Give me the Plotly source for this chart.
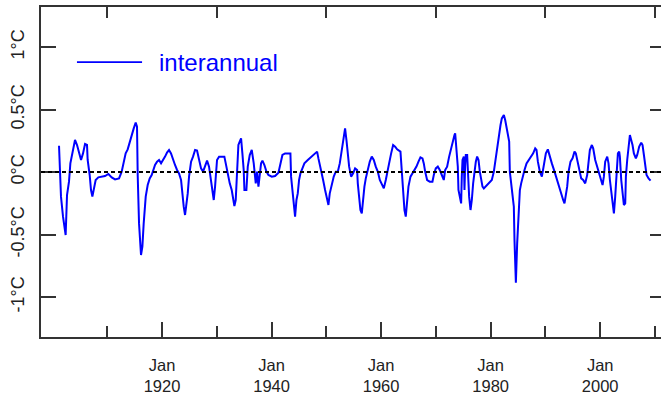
import plotly.graph_objects as go

# decimal years and interannual anomaly (deg C)
years = [1901.19, 1901.31, 1901.55, 1901.92, 1902.28, 1902.40, 1902.65, 1903.01, 1903.26, 1903.74,
         1904.11, 1904.48, 1904.84, 1905.21, 1905.57, 1905.94, 1906.30, 1906.42, 1906.79, 1907.03,
         1907.28, 1907.52, 1907.88, 1908.37, 1909.59, 1910.20, 1910.81, 1911.42, 1912.15, 1912.63,
         1913.00, 1913.36, 1913.73, 1914.09, 1914.46, 1914.83, 1915.19, 1915.43, 1915.56, 1915.80,
         1916.16, 1916.41, 1916.65, 1917.02, 1917.38, 1917.75, 1918.11, 1918.72,
         1919.09, 1919.45, 1919.82, 1920.18, 1920.55, 1920.91, 1921.28, 1921.64, 1922.01, 1922.37,
         1922.74, 1923.10, 1923.47, 1923.71, 1923.96, 1924.20, 1924.44, 1924.69, 1924.93, 1925.30,
         1925.66, 1926.03, 1926.39, 1926.76, 1927.12, 1927.49, 1927.85, 1928.22, 1928.58, 1928.95,
         1929.19, 1929.44, 1929.68, 1930.04, 1930.41, 1930.90, 1931.38, 1931.63, 1931.99, 1932.36,
         1932.72, 1932.97, 1933.21, 1933.45, 1933.70, 1933.94, 1934.18, 1934.43, 1934.67, 1934.91,
         1935.04, 1935.40, 1935.65, 1936.01, 1936.38, 1936.74, 1937.11,
         1937.35, 1937.60, 1937.84, 1938.08, 1938.33, 1938.69, 1939.06, 1939.42, 1940.03, 1940.64,
         1941.25, 1941.61, 1941.98, 1942.47, 1943.07, 1943.44, 1943.56, 1943.81, 1944.05, 1944.29,
         1944.54, 1944.78, 1945.02, 1945.27, 1945.63, 1945.99, 1946.61, 1947.34, 1948.31, 1948.55,
         1948.92, 1949.41, 1949.77, 1950.14, 1950.38, 1950.62, 1950.99, 1951.35, 1951.72, 1952.09,
         1952.45, 1952.82, 1953.18, 1953.42, 1953.67, 1953.91, 1954.16, 1954.52, 1954.89, 1955.25,
         1955.62, 1955.74, 1955.98, 1956.22, 1956.47, 1956.71, 1956.95, 1957.20, 1957.56, 1957.93,
         1958.29, 1958.66, 1959.02, 1959.39, 1959.76, 1960.12, 1960.49, 1960.85, 1961.09, 1961.46,
         1961.83, 1962.19, 1962.56, 1962.92, 1963.53, 1963.77, 1964.02, 1964.26, 1964.50, 1964.75,
         1964.99, 1965.36, 1965.72, 1966.09, 1966.45, 1966.82, 1967.18, 1967.55, 1967.79, 1968.04,
         1968.40, 1968.89, 1969.37, 1969.62, 1969.98, 1970.35, 1970.71, 1971.08, 1971.44, 1971.69,
         1972.05, 1972.42, 1972.78, 1973.15, 1973.39,
         1973.52, 1973.76, 1974.00, 1974.12, 1974.37, 1974.61, 1974.73, 1974.86, 1975.10, 1975.22,
         1975.34, 1975.46, 1975.71, 1975.83, 1976.07, 1976.32, 1976.56, 1976.80, 1977.05, 1977.29,
         1977.53, 1977.78, 1978.02, 1978.27, 1978.51, 1978.75, 1979.60, 1980.21, 1980.58, 1980.82,
         1981.07, 1981.31, 1981.55, 1981.80, 1982.04, 1982.41, 1982.65, 1982.89, 1983.14, 1983.38,
         1983.50, 1983.87, 1984.23, 1984.35, 1984.60, 1984.84, 1985.08, 1985.33, 1985.57, 1985.81,
         1986.18, 1986.55, 1986.91, 1987.40, 1987.76, 1988.13, 1988.37, 1988.62, 1988.98, 1989.35,
         1989.71, 1990.08, 1990.44, 1990.69, 1991.17, 1991.66, 1992.03,
         1992.51, 1992.88, 1993.24, 1993.48, 1993.73, 1993.97, 1994.22, 1994.58, 1994.95, 1995.31,
         1995.55, 1995.80, 1996.16, 1996.53, 1996.89, 1997.26, 1997.62, 1997.87, 1998.11, 1998.48,
         1998.72, 1999.09, 1999.45, 1999.82, 2000.18, 2000.43, 2000.67, 2000.91, 2001.28, 2001.52,
         2001.77, 2002.01, 2002.25, 2002.50, 2002.74, 2002.98, 2003.23, 2003.47, 2003.59, 2003.84,
         2004.08, 2004.32, 2004.57, 2004.69, 2004.93, 2005.17, 2005.42, 2005.66, 2005.90, 2006.15,
         2006.51, 2006.76, 2007.12, 2007.49, 2007.73, 2007.98, 2008.22, 2008.46, 2008.83, 2009.19]

anomaly = [0.210, 0.056, -0.197, -0.357, -0.477, -0.504, -0.184, -0.077, 0.069, 0.189,
           0.256, 0.216, 0.149, 0.096, 0.149, 0.224, 0.216, 0.096, -0.024, -0.144,
           -0.197, -0.144, -0.064, -0.043, -0.032, -0.016, -0.043, -0.059, -0.051, 0.003,
           0.083, 0.149, 0.181, 0.243, 0.309, 0.349, 0.395, 0.363, -0.032, -0.411,
           -0.664, -0.597, -0.411, -0.197, -0.104, -0.051, -0.024, 0.056,
           0.083, 0.096, 0.069, 0.091, 0.123, 0.155, 0.176, 0.149, 0.096, 0.056,
           0.016, -0.011, -0.064, -0.197, -0.277, -0.344, -0.277, -0.171, -0.037, 0.083,
           0.123, 0.176, 0.171, 0.083, 0.029, 0.003, 0.043, 0.091, 0.043, -0.077,
           -0.184, -0.224, -0.117, 0.096, 0.123, 0.123, 0.123, 0.069, -0.024, -0.091,
           -0.144, -0.197, -0.272, -0.224, -0.011, 0.216, 0.243, 0.269, 0.149, 0.016,
           -0.144, -0.144, 0.043, 0.136, 0.176, 0.069, -0.091,
           0.003, -0.117, -0.037, 0.069, 0.091, 0.056, 0.003, -0.024, -0.037, -0.032,
           -0.005, 0.069, 0.136, 0.149, 0.149, 0.149, -0.037, -0.144, -0.224, -0.357,
           -0.224, -0.171, -0.064, -0.011, 0.029, 0.069, 0.096, 0.128, 0.163, 0.109,
           0.043, -0.064, -0.144, -0.224, -0.264, -0.171, -0.104, -0.037, 0.003, 0.003,
           0.069, 0.176, 0.269, 0.349, 0.256, 0.149, 0.043, -0.037, -0.011, 0.029,
           0.016, -0.091, -0.224, -0.304, -0.331, -0.197, -0.117, -0.051, 0.016, 0.083,
           0.123, 0.096, 0.043, 0.003, -0.064, -0.104, -0.131, -0.064, 0.003, 0.069,
           0.149, 0.216, 0.203, 0.181, 0.163, -0.011, -0.224, -0.304, -0.357, -0.224,
           -0.117, -0.037, -0.011, 0.016, 0.043, 0.083, 0.117, 0.109, 0.069, 0.003,
           -0.064, -0.077, -0.077, -0.024, 0.029, 0.043, 0.016, -0.024, -0.064, 0.016,
           0.043, 0.123, 0.189, 0.269, 0.296,
           0.309, 0.203, 0.043, -0.144, -0.197, -0.251, -0.037, 0.096, 0.123, -0.144,
           0.043, 0.136, 0.136, -0.037, -0.197, -0.304, -0.224, -0.091, 0.003, 0.083,
           0.123, 0.096, 0.003, -0.064, -0.117, -0.131, -0.091, -0.064, 0.003, 0.083,
           0.176, 0.256, 0.323, 0.376, 0.429, 0.456, 0.416, 0.363, 0.309, 0.243,
           0.003, -0.117, -0.277, -0.544, -0.885, -0.571, -0.291, -0.144, -0.091, -0.037,
           0.016, 0.069, 0.096, 0.123, 0.149, 0.189, 0.176, 0.083, 0.003, -0.037,
           0.043, 0.149, 0.181, 0.136, 0.069, 0.003, -0.051,
           -0.131, -0.184, -0.224, -0.251, -0.197, -0.117, 0.003, 0.083, 0.109, 0.163,
           0.149, 0.096, 0.016, -0.051, -0.064, -0.091, -0.024, 0.083, 0.176, 0.216,
           0.189, 0.096, 0.043, -0.011, -0.064, -0.104, -0.037, 0.083, 0.123, 0.069,
           -0.064, -0.157, -0.251, -0.331, -0.197, -0.011, 0.149, 0.163, 0.123, -0.064,
           -0.144, -0.264, -0.251, -0.037, 0.096, 0.229, 0.296, 0.256, 0.216, 0.149,
           0.109, 0.136, 0.203, 0.235, 0.216, 0.136, 0.056, -0.024, -0.051, -0.069]

x_major = [1920, 1940, 1960, 1980, 2000]
x_major_text = ["Jan<br>1920", "Jan<br>1940", "Jan<br>1960", "Jan<br>1980", "Jan<br>2000"]
x_minor = [1910, 1930, 1950, 1970, 1990, 2010]
y_ticks = [-1, -0.5, 0, 0.5, 1]
y_text = ["-1°C", "-0.5°C", "0°C", "0.5°C", "1°C"]
series_name = "interannual"

X_RANGE = [1897.9, 2011.1]
Y_RANGE = [-1.32, 1.32]
FONT = "Liberation Sans, Arial, sans-serif"
AX = "#333333"
BLUE = "#0000ff"

fig = go.Figure()
fig.add_trace(go.Scatter(x=years, y=anomaly, mode="lines", name=series_name,
                         line=dict(color=BLUE, width=2), showlegend=False,
                         hoverinfo="x+y"))
# helper trace for the mirrored (top / right) tick axes
fig.add_trace(go.Scatter(x=[None], y=[None], xaxis="x2", yaxis="y2",
                         showlegend=False, hoverinfo="skip"))

fig.update_layout(
    width=661, height=397,
    margin=dict(l=41, r=0, t=7, b=60),
    paper_bgcolor="white", plot_bgcolor="white",
    font=dict(family=FONT, size=18, color="#222222"),
    xaxis=dict(range=X_RANGE, showgrid=False, zeroline=False, automargin=False,
               showline=True, linecolor=AX, linewidth=2,
               tickmode="array", tickvals=x_major, ticktext=x_major_text,
               tickfont=dict(size=16.5),
               ticks="inside", ticklen=15, tickwidth=2, tickcolor=AX,
               ticklabelstandoff=12,
               minor=dict(tickmode="array", tickvals=x_minor, ticks="inside",
                          ticklen=11, tickwidth=2, tickcolor=AX, showgrid=False)),
    xaxis2=dict(range=X_RANGE, overlaying="x", side="top", anchor="y", automargin=False,
                showgrid=False, zeroline=False, showline=True, linecolor=AX, linewidth=2,
                tickmode="array", tickvals=x_minor, ticks="inside", ticklen=11,
                tickwidth=2, tickcolor=AX, showticklabels=False),
    yaxis=dict(range=Y_RANGE, showgrid=False, zeroline=False, automargin=False,
               showline=True, linecolor=AX, linewidth=2,
               tickmode="array", tickvals=y_ticks, ticktext=y_text,
               ticks="inside", ticklen=15, tickwidth=2, tickcolor=AX,
               tickangle=-90, ticklabelstandoff=8),
    yaxis2=dict(range=Y_RANGE, overlaying="y", side="right", anchor="x", automargin=False,
                showgrid=False, zeroline=False, showline=False,
                tickmode="array", tickvals=y_ticks, ticks="inside", ticklen=11,
                tickwidth=2, tickcolor=AX, showticklabels=False),
    showlegend=False,
)

# zero reference line
fig.add_shape(type="line", xref="paper", x0=0, x1=1, yref="y", y0=0, y1=0,
              line=dict(color="black", width=2, dash="4px,3px"))

# legend drawn by hand to get the long line sample
fig.add_shape(type="line", xref="paper", yref="paper", x0=0.058, x1=0.163,
              y0=0.833, y1=0.833, line=dict(color=BLUE, width=1.6))
fig.add_annotation(xref="paper", yref="paper", x=0.187, y=0.833, text=series_name,
                   showarrow=False, xanchor="left", yanchor="middle",
                   font=dict(family=FONT, size=24, color=BLUE))

fig.write_html("out.html")
